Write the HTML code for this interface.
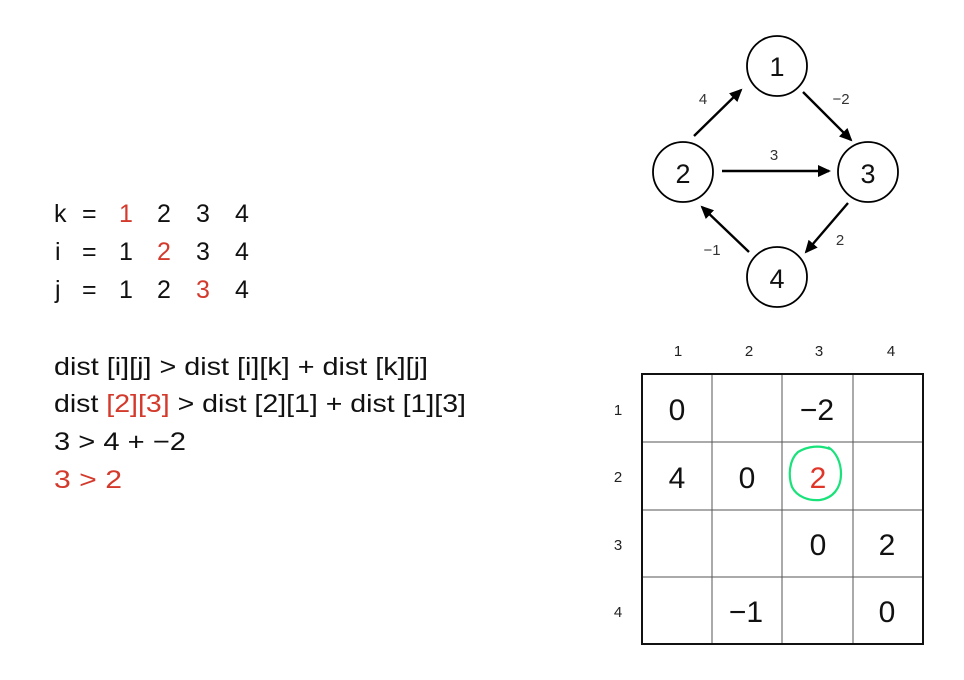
<!DOCTYPE html>
<html><head><meta charset="utf-8"><style>html,body{margin:0;padding:0;background:#fff;}svg{display:block}</style></head>
<body>
<svg width="964" height="680" viewBox="0 0 964 680" xmlns="http://www.w3.org/2000/svg" font-family="Liberation Sans, sans-serif">
<defs><marker id="a" markerWidth="13" markerHeight="12" refX="11" refY="6" orient="auto" markerUnits="userSpaceOnUse"><path d="M0,0 L13,6 L0,12 z" fill="#000"/></marker></defs>
<g font-size="25" fill="#111">
<text x="54" y="222">k</text><text x="82" y="222">=</text><text x="119" y="222" fill="#d33a2c">1</text><text x="157" y="222">2</text><text x="196" y="222">3</text><text x="235" y="222">4</text>
<text x="55" y="260">i</text><text x="82" y="260">=</text><text x="119" y="260">1</text><text x="157" y="260" fill="#d33a2c">2</text><text x="196" y="260">3</text><text x="235" y="260">4</text>
<text x="55" y="298">j</text><text x="82" y="298">=</text><text x="119" y="298">1</text><text x="157" y="298">2</text><text x="196" y="298" fill="#d33a2c">3</text><text x="235" y="298">4</text>
<text x="54" y="375" textLength="374" lengthAdjust="spacingAndGlyphs">dist [i][j] &gt; dist [i][k] + dist [k][j]</text>
<text x="54" y="412" textLength="412" lengthAdjust="spacingAndGlyphs">dist <tspan fill="#d33a2c">[2][3]</tspan> &gt; dist [2][1] + dist [1][3]</text>
<text x="54" y="450" textLength="132" lengthAdjust="spacingAndGlyphs">3 &gt; 4 + −2</text>
<text x="54" y="488" fill="#d33a2c" textLength="68" lengthAdjust="spacingAndGlyphs">3 &gt; 2</text>
</g>
<g fill="none" stroke="#000" stroke-width="1.8">
<circle cx="777" cy="66" r="30"/><circle cx="683" cy="172" r="30"/><circle cx="868" cy="172" r="30"/><circle cx="777" cy="277" r="30"/>
<line x1="694" y1="136" x2="741" y2="90" stroke-width="2.4" marker-end="url(#a)"/>
<line x1="803" y1="92" x2="851" y2="140" stroke-width="2.4" marker-end="url(#a)"/>
<line x1="722" y1="171" x2="829" y2="171" stroke-width="2.4" marker-end="url(#a)"/>
<line x1="848" y1="203" x2="806" y2="252" stroke-width="2.4" marker-end="url(#a)"/>
<line x1="749" y1="252" x2="702" y2="207" stroke-width="2.4" marker-end="url(#a)"/>
</g>
<g font-size="27" text-anchor="middle" fill="#111">
<text x="777" y="76">1</text><text x="683" y="183">2</text><text x="868" y="183">3</text><text x="777" y="288">4</text>
</g>
<g font-size="15" text-anchor="middle" fill="#333">
<text x="703" y="104">4</text><text x="841" y="104">−2</text><text x="774" y="160">3</text><text x="840" y="245">2</text><text x="712" y="255">−1</text>
</g>
<g stroke="#555" stroke-width="1">
<line x1="712" y1="374" x2="712" y2="644"/><line x1="782" y1="374" x2="782" y2="644"/><line x1="853" y1="374" x2="853" y2="644"/>
<line x1="642" y1="442" x2="923" y2="442"/><line x1="642" y1="510" x2="923" y2="510"/><line x1="642" y1="577" x2="923" y2="577"/>
</g>
<rect x="642" y="374" width="281" height="270" fill="none" stroke="#111" stroke-width="2"/>
<g font-size="15" text-anchor="middle" fill="#222">
<text x="678" y="356">1</text><text x="749" y="356">2</text><text x="819" y="356">3</text><text x="891" y="356">4</text>
<text x="618" y="415">1</text><text x="618" y="482">2</text><text x="618" y="550">3</text><text x="618" y="617">4</text>
</g>
<g font-size="30" text-anchor="middle" fill="#111">
<text x="677" y="420">0</text><text x="817" y="420">−2</text>
<text x="677" y="488">4</text><text x="747" y="488">0</text><text x="818" y="488" fill="#e0362a">2</text>
<text x="818" y="555">0</text><text x="887" y="555">2</text>
<text x="746" y="622">−1</text><text x="887" y="622">0</text>
</g>
<path d="M830,449 C820,445 808,446 798,452 C789,460 788,476 792,487 C797,497 809,501 820,500 C833,498 841,488 841,474 C841,462 836,452 828,447" fill="none" stroke="#19e27a" stroke-width="2.2"/>
</svg>
</body></html>
